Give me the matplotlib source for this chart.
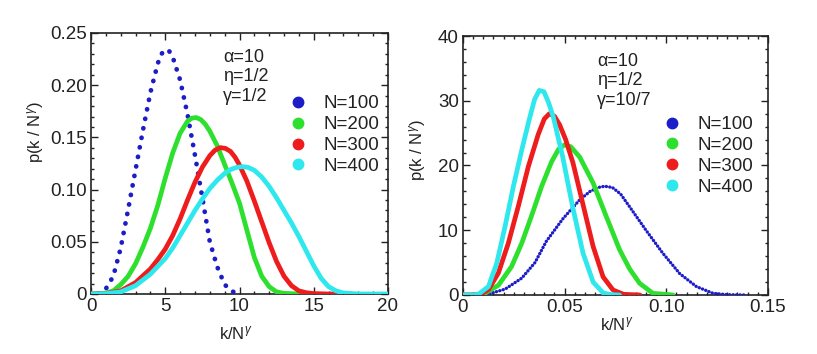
import numpy as np
import matplotlib
matplotlib.use('Agg')
import matplotlib.pyplot as plt
from matplotlib.lines import Line2D
from matplotlib.ticker import MultipleLocator, FuncFormatter

plt.rcParams['font.family'] = ['Liberation Sans', 'DejaVu Sans']
plt.rcParams['mathtext.fontset'] = 'custom'
plt.rcParams['mathtext.rm'] = 'Liberation Sans'
plt.rcParams['mathtext.it'] = 'Liberation Sans:italic'

# ---- left panel (gamma = 1/2) ----
labels = ['N=100', 'N=200', 'N=300', 'N=400']
colors = ['#1c1cc8', '#2ee02e', '#ee1c1c', '#2ee8ee']

left_x_100 = [0.5, 1.0, 1.5, 2.0, 2.5, 3.0, 3.5, 4.0, 4.5, 4.75, 5.0, 5.25, 5.5, 6.0, 6.5,
              7.0, 7.5, 8.0, 8.5, 9.0, 9.5, 10.0]
left_y_100 = [0.0005, 0.005, 0.017, 0.044, 0.081, 0.119, 0.157, 0.193, 0.221, 0.230, 0.234,
              0.233, 0.227, 0.205, 0.172, 0.133, 0.092, 0.050, 0.026, 0.009, 0.0025, 0.0]

left_x_200 = [0.0, 0.5, 1.0, 1.5, 2.0, 2.5, 3.0, 3.5, 4.0, 4.5, 5.0, 5.5, 6.0, 6.5, 6.8,
              7.1, 7.4, 7.7, 8.0, 8.5, 9.0, 9.5, 10.0, 10.5, 11.0, 11.5, 12.0, 12.5,
              13.0, 14.0]
left_y_200 = [0.0, 0.0, 0.001, 0.003, 0.009, 0.017, 0.029, 0.045, 0.063, 0.085, 0.111,
              0.135, 0.154, 0.1655, 0.1685, 0.169, 0.167, 0.1625, 0.156, 0.142, 0.124,
              0.106, 0.087, 0.061, 0.035, 0.017, 0.007, 0.002, 0.0006, 0.0]

left_x_300 = [0.0, 1.0, 2.0, 3.0, 4.0, 4.5, 5.0, 5.5, 6.0, 6.5, 7.0, 7.5, 8.0, 8.35, 8.7,
              9.05, 9.4, 9.7, 10.0, 10.5, 11.0, 11.5, 12.0, 12.5, 13.0, 13.5, 14.0,
              14.5, 15.0, 16.0, 17.5]
left_y_300 = [0.0, 0.0005, 0.003, 0.011, 0.024, 0.033, 0.043, 0.056, 0.072, 0.090, 0.107,
              0.1215, 0.1325, 0.1378, 0.1402, 0.1395, 0.1365, 0.131, 0.1235, 0.108, 0.089,
              0.069, 0.049, 0.031, 0.017, 0.008, 0.003, 0.0012, 0.0004, 0.0, 0.0]

left_x_400 = [0.0, 1.0, 2.0, 3.0, 4.0, 5.0, 5.5, 6.0, 6.5, 7.0, 7.5, 8.0, 8.5, 9.0, 9.4,
              9.8, 10.2, 10.6, 11.0, 11.5, 12.0, 12.5, 13.0, 13.5, 14.0, 14.5, 15.0,
              15.5, 16.0, 16.5, 17.0, 18.0, 20.0]
left_y_400 = [0.0, 0.0004, 0.002, 0.008, 0.019, 0.034, 0.044, 0.056, 0.068, 0.080, 0.091,
              0.101, 0.109, 0.1155, 0.1192, 0.1213, 0.122, 0.1212, 0.1185, 0.112, 0.103,
              0.092, 0.080, 0.068, 0.055, 0.041, 0.027, 0.015, 0.007, 0.003, 0.001, 0.0,
              0.0]

# ---- right panel (gamma = 10/7) ----
right_x_100 = [0.008, 0.0125, 0.0207, 0.0289, 0.0354, 0.041, 0.0492, 0.0574, 0.0625,
               0.0665, 0.0697, 0.0735, 0.0775, 0.082, 0.090, 0.0984, 0.1066, 0.1148,
               0.123, 0.130, 0.139]
right_y_100 = [0.0, 0.15, 0.9, 2.6, 5.0, 8.3, 11.8, 14.7, 16.0, 16.6, 16.8, 16.6, 15.6,
               13.6, 10.0, 6.4, 3.3, 1.3, 0.26, 0.05, 0.0]

right_x_200 = [0.0, 0.006, 0.0108, 0.0174, 0.0239, 0.0289, 0.0338, 0.0387, 0.0436, 0.047,
               0.050, 0.053, 0.0574, 0.064, 0.0705, 0.077, 0.082, 0.0869, 0.0934, 0.1033]
right_y_200 = [0.0, 0.0, 0.26, 1.5, 4.4, 8.0, 12.3, 16.8, 20.6, 22.5, 23.2, 22.9, 21.3,
               17.3, 12.1, 7.0, 4.0, 1.8, 0.26, 0.0]

right_x_300 = [0.0, 0.006, 0.0084, 0.0125, 0.0174, 0.0223, 0.0272, 0.0321, 0.037, 0.040,
               0.0425, 0.045, 0.0475, 0.0505, 0.0541, 0.059, 0.064, 0.0689, 0.0738, 0.079,
               0.087]
right_y_300 = [0.0, 0.0, 0.1, 0.8, 3.4, 8.0, 13.7, 19.8, 24.8, 27.2, 28.0, 27.6, 26.3,
               24.0, 20.4, 14.0, 7.5, 2.8, 0.77, 0.1, 0.0]

right_x_400 = [0.0, 0.005, 0.0075, 0.0125, 0.0166, 0.0207, 0.0248, 0.0289, 0.0325,
               0.0352, 0.0375, 0.0398, 0.042, 0.0445, 0.049, 0.054, 0.059, 0.064, 0.069,
               0.073, 0.077]
right_y_400 = [0.0, 0.0, 0.1, 1.3, 4.9, 10.6, 16.8, 22.4, 27.0, 30.2, 31.6, 31.4, 29.8,
               27.4, 21.4, 13.5, 6.5, 2.0, 0.3, 0.05, 0.0]

left_series = [(left_x_100, left_y_100), (left_x_200, left_y_200),
               (left_x_300, left_y_300), (left_x_400, left_y_400)]
right_series = [(right_x_100, right_y_100), (right_x_200, right_y_200),
                (right_x_300, right_y_300), (right_x_400, right_y_400)]


def fmt_dec(v, pos):
    return '0' if abs(v) < 1e-9 else '%.2f' % v


def style_axes(ax):
    ax.tick_params(which='both', direction='in', top=True, right=True, labelsize=13.5,
                   width=1.0, colors='#222222', pad=3)
    ax.tick_params(which='major', length=5)
    ax.tick_params(which='minor', length=2.5)
    for s in ax.spines.values():
        s.set_linewidth(1.2)
        s.set_color('#222222')


def draw_panel(ax, series, dot_style, dot_lw):
    # N=100 is dotted, the rest solid
    for i, (xs, ys) in enumerate(series):
        if i == 0:
            ax.plot(xs, ys, color=colors[i], lw=dot_lw, linestyle=dot_style,
                    dash_capstyle='round', dash_joinstyle='round', zorder=3)
        else:
            ax.plot(xs, ys, color=colors[i], lw=3.4, solid_capstyle='round',
                    solid_joinstyle='round', zorder=2 + i)


fig = plt.figure(figsize=(8.17, 3.54), dpi=100)
ax1 = fig.add_axes([0.1114, 0.1695, 0.3635, 0.7373])
ax2 = fig.add_axes([0.5667, 0.1667, 0.3733, 0.7316])

draw_panel(ax1, left_series, (0, (0.05, 2.0)), 3.4)
ax1.set_xlim(0, 20)
ax1.set_ylim(0, 0.25)
ax1.xaxis.set_major_locator(MultipleLocator(5))
ax1.xaxis.set_minor_locator(MultipleLocator(1))
ax1.yaxis.set_major_locator(MultipleLocator(0.05))
ax1.yaxis.set_minor_locator(MultipleLocator(0.01))
ax1.yaxis.set_major_formatter(FuncFormatter(fmt_dec))
style_axes(ax1)
ax1.set_xlabel(r'k/N$^{\gamma}$', fontsize=12, color='#222222')
ax1.set_ylabel(r'p(k / N$^{\gamma}$)', fontsize=12, color='#222222')
ax1.xaxis.set_label_coords(0.488, -0.115)
ax1.yaxis.set_label_coords(-0.15, 0.62)
ax1.text(0.445, 0.94, 'α=10\nη=1/2\nγ=1/2', transform=ax1.transAxes, fontsize=13,
         va='top', ha='left', linespacing=1.2, color='#222222')

draw_panel(ax2, right_series, (0, (0.05, 1.0)), 2.4)
ax2.set_xlim(0, 0.15)
ax2.set_ylim(0, 40)
ax2.xaxis.set_major_locator(MultipleLocator(0.05))
ax2.xaxis.set_minor_locator(MultipleLocator(0.005))
ax2.yaxis.set_major_locator(MultipleLocator(10))
ax2.yaxis.set_minor_locator(MultipleLocator(2))
ax2.xaxis.set_major_formatter(FuncFormatter(fmt_dec))
style_axes(ax2)
ax2.set_xlabel(r'k/N$^{\gamma}$', fontsize=12, color='#222222')
ax2.set_ylabel(r'p(k / N$^{\gamma}$)', fontsize=12, color='#222222')
ax2.xaxis.set_label_coords(0.505, -0.08)
ax2.yaxis.set_label_coords(-0.115, 0.56)
ax2.text(0.44, 0.935, 'α=10\nη=1/2\nγ=10/7', transform=ax2.transAxes, fontsize=13,
         va='top', ha='left', linespacing=1.2, color='#222222')

handles = [Line2D([], [], color=c, marker='o', linestyle='none', markersize=7.5)
           for c in colors]
for ax, anchor in [(ax1, (0.645, 0.79)), (ax2, (0.635, 0.72))]:
    leg = ax.legend(handles, labels, loc='upper left', bbox_to_anchor=anchor,
                    frameon=False, fontsize=13.5, handlelength=0.8, handletextpad=1.0,
                    labelspacing=0.2, borderaxespad=0)
    for t in leg.get_texts():
        t.set_color('#222222')

fig.savefig('out.png', dpi=100)
